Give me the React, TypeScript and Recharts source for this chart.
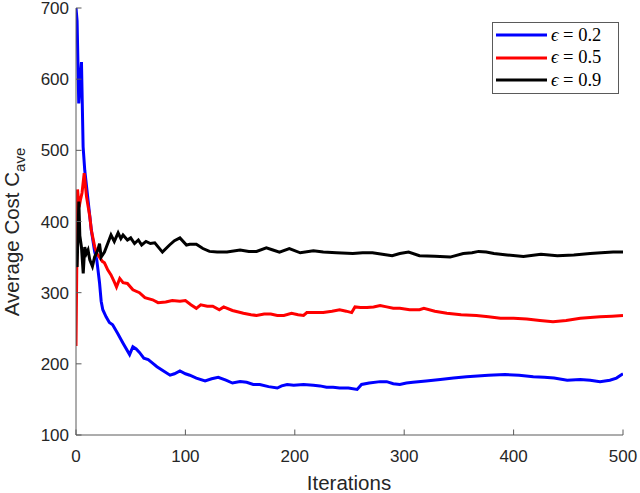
import { LineChart, Line, XAxis, YAxis } from "recharts";

// [iteration, average cost]
const EPS_02: [number, number][] = [
  [0, 700], [1, 682], [2.5, 566], [3.5, 590], [5, 624], [6.5, 505], [8, 472], [11, 430],
  [14, 388], [17, 358], [19, 346], [21.5, 314], [23, 288], [24.5, 276], [27.5, 266],
  [30.5, 258], [33.5, 255], [38, 243], [43, 229], [49, 213], [52, 224], [55, 221],
  [58, 216], [62, 208], [66, 206], [70, 201], [74, 196], [80, 190], [86, 184], [90, 186],
  [95, 190], [100, 186], [104, 184], [110, 180], [118, 176], [124, 179], [130, 181],
  [137, 177], [143, 173], [150, 175], [156, 174], [162, 171], [168, 171], [176, 168],
  [184, 166], [188, 169], [193, 171], [199, 170], [208, 171], [217, 170], [223, 169],
  [229, 167], [235, 167], [241, 166], [249, 166], [257, 164], [261, 171], [268, 173],
  [278, 175], [284, 175], [290, 172], [296, 171], [302, 173], [308, 174], [320, 176],
  [333, 178], [345, 180], [357, 182], [367, 183], [377, 184], [392, 185], [405, 184],
  [418, 182], [428, 181], [437, 180], [449, 177], [461, 178], [470, 177], [479, 175],
  [488, 177], [494, 180], [500, 186],
];

const EPS_05: [number, number][] = [
  [0, 225], [1.4, 445], [2.8, 420], [4, 430], [5.5, 440], [7.5, 468], [9.6, 435],
  [12.6, 407], [14, 388], [17, 365], [19, 355], [21.5, 350], [24, 344], [26, 342],
  [29, 332], [32, 325], [35, 315], [37, 308], [40, 320], [43, 314], [47, 313], [52, 304],
  [58, 300], [63, 293], [70, 290], [75, 286], [82, 287], [88, 289], [95, 288], [100, 289],
  [105, 283], [110, 278], [114, 283], [120, 281], [125, 281], [131, 276], [135, 280],
  [143, 275], [153, 271], [160, 269], [165, 268], [172, 270], [178, 270], [184, 268],
  [190, 268], [197, 271], [203, 269], [208, 268], [211, 272], [218, 272], [226, 272],
  [234, 274], [241, 276], [247, 274], [252, 272], [255, 280], [260, 279], [266, 279],
  [272, 280], [278, 282], [284, 280], [290, 278], [296, 278], [305, 276], [314, 276],
  [318, 278], [328, 274], [339, 271], [352, 269], [366, 268], [377, 266], [388, 264],
  [400, 264], [412, 263], [424, 261], [436, 259], [448, 261], [461, 264], [470, 265],
  [479, 266], [490, 267], [500, 268],
];

const EPS_09: [number, number][] = [
  [0, 345], [1, 336], [2.6, 428], [3.5, 380], [5, 364], [6.6, 327], [8, 364], [9.5, 355],
  [11, 360], [12.6, 346], [15, 337], [17, 350], [20, 360], [21.5, 369], [23, 350],
  [26, 357], [29, 369], [32, 381], [35, 372], [38.5, 384], [41, 376], [43, 381], [47, 374],
  [50, 377], [53.5, 369], [57, 374], [60, 367], [64, 372], [68, 369], [72, 370], [79, 357],
  [85.5, 367], [90, 373], [95, 377], [101, 367], [104, 368], [110, 368], [116, 362],
  [122, 358], [129, 357], [138, 357], [150, 360], [158, 358], [165, 358], [174, 363],
  [180, 360], [186, 357], [195, 362], [205, 356], [217, 359], [226, 357], [238, 356],
  [253, 355], [262, 356], [271, 356], [280, 354], [289, 352], [296, 355], [304, 357],
  [314, 352], [328, 351], [342, 350], [354, 355], [362, 356], [368, 358], [375, 357],
  [382, 355], [394, 353], [409, 351], [425, 354], [440, 352], [455, 353], [470, 355],
  [480, 356], [491, 357], [500, 357],
];

const X_TICKS = [0, 100, 200, 300, 400, 500];
const Y_TICKS = [100, 200, 300, 400, 500, 600, 700];

const SERIES = [
  { eps: "0.2", color: "#0000ff", points: EPS_02 },
  { eps: "0.5", color: "#ff0000", points: EPS_05 },
  { eps: "0.9", color: "#000000", points: EPS_09 },
];

const AXIS_COLOR = "#5a5a5a";
const TEXT_COLOR = "#262626";
const SANS = "'Liberation Sans', Arial, sans-serif";
const SERIF = "'Liberation Serif', 'Times New Roman', serif";
const TICK_LEN = 5.5;
const TICK_FONT = 17;
const TITLE_FONT = 20.5;

const toRows = (pts: [number, number][]) => pts.map(([it, cost]) => ({ it, cost }));

// MATLAB-style inward ticks
function BottomTick({ x, y, payload }: any) {
  return (
    <g>
      <line x1={x} y1={y} x2={x} y2={y - TICK_LEN} stroke={AXIS_COLOR} />
      <text x={x} y={y + 27} textAnchor="middle" fill={TEXT_COLOR} fontSize={TICK_FONT} fontFamily={SANS}>
        {payload.value}
      </text>
    </g>
  );
}

function TopTick({ x, y }: any) {
  return <line x1={x} y1={y} x2={x} y2={y + TICK_LEN} stroke={AXIS_COLOR} />;
}

function LeftTick({ x, y, payload }: any) {
  return (
    <g>
      <line x1={x} y1={y} x2={x + TICK_LEN} y2={y} stroke={AXIS_COLOR} />
      <text x={x - 7} y={y + 6} textAnchor="end" fill={TEXT_COLOR} fontSize={TICK_FONT} fontFamily={SANS}>
        {payload.value}
      </text>
    </g>
  );
}

function RightTick({ x, y }: any) {
  return <line x1={x} y1={y} x2={x - TICK_LEN} y2={y} stroke={AXIS_COLOR} />;
}

function YTitle() {
  const cx = 19;
  const cy = 232;
  return (
    <text
      x={cx}
      y={cy}
      transform={`rotate(-90, ${cx}, ${cy})`}
      textAnchor="middle"
      fill={TEXT_COLOR}
      fontSize={TITLE_FONT}
      fontFamily={SANS}
    >
      Average Cost C
      <tspan dy={6} fontSize={15}>ave</tspan>
    </text>
  );
}

function XTitle() {
  return (
    <text x={349} y={490} textAnchor="middle" fill={TEXT_COLOR} fontSize={TITLE_FONT} fontFamily={SANS}>
      Iterations
    </text>
  );
}

function LegendBox() {
  return (
    <div
      style={{
        position: "absolute",
        left: 492,
        top: 22,
        boxSizing: "border-box",
        width: 127,
        height: 72,
        border: `1px solid ${AXIS_COLOR}`,
        background: "#fff",
        padding: "1px 0 0 3px",
      }}
    >
      {SERIES.map((s) => (
        <div key={s.eps} style={{ display: "flex", alignItems: "center", height: 22.6 }}>
          <svg width={51} height={4} style={{ display: "block" }}>
            <line x1={0} y1={2} x2={51} y2={2} stroke={s.color} strokeWidth={3} />
          </svg>
          <span style={{ fontFamily: SERIF, fontSize: 18.5, color: "#000", marginLeft: 4, whiteSpace: "pre" }}>
            <i>ϵ</i>{" = "}{s.eps}
          </span>
        </div>
      ))}
    </div>
  );
}

export default function App() {
  return (
    <div style={{ position: "relative", width: 640, height: 493 }}>
      <style>{"body{margin:0;background:#fff}"}</style>
      <LineChart width={640} height={493} margin={{ top: 8, right: 17, left: 36, bottom: 28 }}>
        <XAxis
          dataKey="it"
          type="number"
          domain={[0, 500]}
          ticks={X_TICKS}
          interval={0}
          allowDataOverflow
          height={30}
          tickSize={0}
          tickMargin={0}
          tickLine={false}
          tick={<BottomTick />}
          axisLine={{ stroke: AXIS_COLOR }}
          label={<XTitle />}
        />
        <XAxis
          xAxisId="top"
          orientation="top"
          type="number"
          domain={[0, 500]}
          ticks={X_TICKS}
          interval={0}
          allowDataOverflow
          height={0}
          tickSize={0}
          tickMargin={0}
          tickLine={false}
          tick={<TopTick />}
          axisLine={{ stroke: AXIS_COLOR }}
        />
        <YAxis
          type="number"
          domain={[100, 700]}
          ticks={Y_TICKS}
          interval={0}
          allowDataOverflow
          width={40}
          tickSize={0}
          tickMargin={0}
          tickLine={false}
          tick={<LeftTick />}
          axisLine={{ stroke: AXIS_COLOR }}
          label={<YTitle />}
        />
        <YAxis
          yAxisId="right"
          orientation="right"
          type="number"
          domain={[100, 700]}
          ticks={Y_TICKS}
          interval={0}
          allowDataOverflow
          width={0}
          tickSize={0}
          tickMargin={0}
          tickLine={false}
          tick={<RightTick />}
          axisLine={{ stroke: AXIS_COLOR }}
        />
        {SERIES.map((s) => (
          <Line
            key={s.eps}
            data={toRows(s.points)}
            dataKey="cost"
            type="linear"
            stroke={s.color}
            strokeWidth={3}
            dot={false}
            activeDot={false}
            isAnimationActive={false}
          />
        ))}
      </LineChart>
      <LegendBox />
    </div>
  );
}
